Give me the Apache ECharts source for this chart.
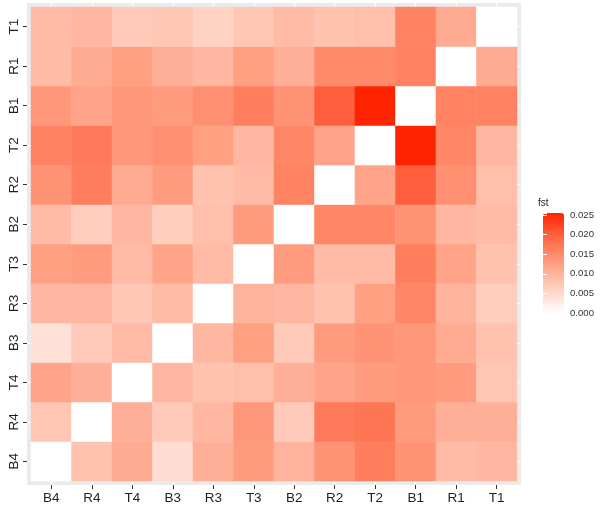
<!DOCTYPE html>
<html>
<head>
<meta charset="utf-8">
<script src="https://cdn.jsdelivr.net/npm/echarts@6/dist/echarts.min.js"></script>
<style>
  html, body { margin: 0; padding: 0; background: #fff; }
  #main { width: 600px; height: 508px; }
</style>
</head>
<body>
<div id="main"></div>
<script>
// categories, same order on both axes (y goes bottom -> top)
const cats = ['B4', 'R4', 'T4', 'B3', 'R3', 'T3', 'B2', 'R2', 'T2', 'B1', 'R1', 'T1'];

// fst values, one array per row (y category), columns follow cats
const T1 = [0.009, 0.0095, 0.007, 0.0075, 0.006, 0.0075, 0.009, 0.008, 0.0085, 0.016, 0.011, 0];
const R1 = [0.009, 0.011, 0.0125, 0.0105, 0.0095, 0.0125, 0.0105, 0.015, 0.015, 0.016, 0, 0.011];
const B1 = [0.0135, 0.012, 0.0135, 0.013, 0.0145, 0.0165, 0.014, 0.020, 0.0255, 0, 0.016, 0.016];
const T2 = [0.016, 0.017, 0.0135, 0.0145, 0.0125, 0.0095, 0.0155, 0.012, 0, 0.0255, 0.0155, 0.0095];
const R2 = [0.014, 0.0165, 0.011, 0.013, 0.008, 0.009, 0.016, 0, 0.012, 0.020, 0.0145, 0.0085];
const B2 = [0.009, 0.0065, 0.0095, 0.0065, 0.0085, 0.013, 0, 0.0155, 0.0155, 0.014, 0.0095, 0.009];
const T3 = [0.0125, 0.013, 0.009, 0.012, 0.009, 0, 0.013, 0.009, 0.009, 0.0165, 0.012, 0.008];
const R3 = [0.0095, 0.0095, 0.0075, 0.009, 0, 0.010, 0.0095, 0.008, 0.0125, 0.0155, 0.010, 0.0065];
const B3 = [0.004, 0.007, 0.009, 0, 0.0095, 0.0125, 0.007, 0.013, 0.014, 0.0135, 0.011, 0.008];
const T4 = [0.012, 0.0105, 0, 0.0095, 0.008, 0.0085, 0.0105, 0.012, 0.013, 0.0135, 0.013, 0.0075];
const R4 = [0.0075, 0, 0.0105, 0.007, 0.0095, 0.0135, 0.007, 0.017, 0.0175, 0.013, 0.0105, 0.0105];
const B4 = [0, 0.008, 0.011, 0.0045, 0.0105, 0.013, 0.010, 0.014, 0.0165, 0.014, 0.009, 0.0095];

const rows = [B4, R4, T4, B3, R3, T3, B2, R2, T2, B1, R1, T1];
const fstMax = 0.0255;
const legendTicks = [0, 0.005, 0.01, 0.015, 0.02, 0.025];

const heatData = [];
rows.forEach((row, yi) => {
    row.forEach((v, xi) => {
        heatData.push([xi, yi, v]);
    });
});

const textColor = '#1f1f1f';
const font = 'Liberation Sans, Arial, sans-serif';

let chart = echarts.init(document.getElementById('main'), null, { renderer: 'canvas' });

let option = {
    animation: false,
    title: {
        text: 'fst',
        left: 538,
        top: 198,
        padding: 0,
        textStyle: { fontSize: 10, fontWeight: 'normal', color: '#1f1f1f', fontFamily: font }
    },
    grid: [
        // panel background
        { left: 27, right: 79, top: 3, bottom: 23, show: true, backgroundColor: '#EBEBEB', borderWidth: 0 },
        // tiles
        { left: 31.05, right: 83.05, top: 6.95, bottom: 26.95 },
        // vertical grid lines + x labels
        { left: 51.3, right: 103.3, top: 3, bottom: 23 },
        // horizontal grid lines + y labels
        { left: 27, right: 79, top: 26.7, bottom: 46.7 },
        // colour bar labels
        { left: 543, right: 36, top: 213, bottom: 195 }
    ],
    xAxis: [
        { gridIndex: 0, type: 'value', show: false },
        { gridIndex: 1, type: 'category', data: cats, show: false },
        {
            gridIndex: 2, type: 'category', data: cats, boundaryGap: false, z: 1,
            axisLine: { show: false },
            axisTick: { show: true, length: 4, lineStyle: { color: '#333' } },
            axisLabel: { margin: 6, fontSize: 13.5, color: textColor, fontFamily: font, interval: 0 },
            splitLine: { show: true, lineStyle: { color: '#ffffff', width: 1.1 } }
        },
        { gridIndex: 3, type: 'value', show: false },
        { gridIndex: 4, type: 'value', show: false }
    ],
    yAxis: [
        { gridIndex: 0, type: 'value', show: false },
        { gridIndex: 1, type: 'category', data: cats, show: false },
        { gridIndex: 2, type: 'value', show: false },
        {
            gridIndex: 3, type: 'category', data: cats, boundaryGap: false, z: 1,
            axisLine: { show: false },
            axisTick: { show: true, length: 4, lineStyle: { color: '#333' } },
            axisLabel: { margin: 6, rotate: 90, fontSize: 13.5, color: textColor, fontFamily: font, interval: 0 },
            splitLine: { show: true, lineStyle: { color: '#ffffff', width: 1.1 } }
        },
        {
            gridIndex: 4, type: 'value', position: 'right', min: 0, max: fstMax, interval: 0.005, z: 10,
            axisLine: { show: false },
            axisTick: { show: true, inside: true, length: 4, lineStyle: { color: '#ffffff' } },
            axisLabel: {
                margin: 6, fontSize: 9.6, color: '#333', fontFamily: font, showMaxLabel: false,
                formatter: v => legendTicks.indexOf(Math.round(v * 1000) / 1000) >= 0 ? v.toFixed(3) : ''
            },
            splitLine: { show: false }
        },
        {
            gridIndex: 4, type: 'value', position: 'left', min: 0, max: fstMax, interval: 0.005, z: 10,
            axisLine: { show: false },
            axisTick: { show: true, inside: true, length: 4, lineStyle: { color: '#ffffff' } },
            axisLabel: { show: false },
            splitLine: { show: false }
        }
    ],
    visualMap: {
        type: 'continuous',
        min: 0,
        max: fstMax,
        seriesIndex: 0,
        calculable: false,
        hoverLink: false,
        itemWidth: 21,
        itemHeight: 100,
        left: 543,
        top: 213,
        padding: 0,
        z: 1,
        inRange: { color: ['#ffffff', '#ffcfbf', '#ff9e81', '#ff6846', '#ff2400'] }
    },
    series: [
        {
            type: 'heatmap',
            xAxisIndex: 1,
            yAxisIndex: 1,
            data: heatData,
            itemStyle: { borderWidth: 0 },
            emphasis: { disabled: true }
        }
    ]
};

chart.setOption(option);
</script>
</body>
</html>
